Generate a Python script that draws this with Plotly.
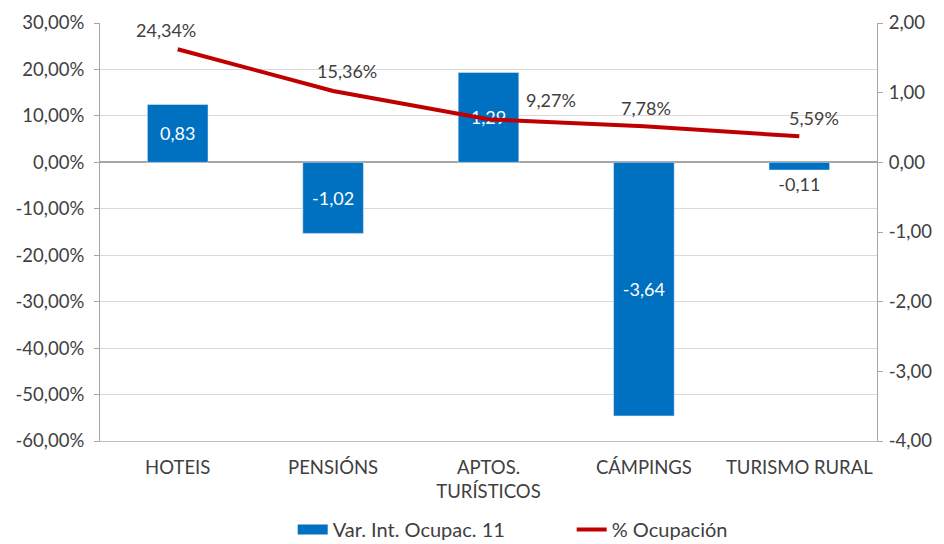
import plotly.graph_objects as go

categories = ["HOTEIS", "PENSIÓNS", "APTOS.<br>TURÍSTICOS", "CÁMPINGS", "TURISMO RURAL"]
var_int = [0.83, -1.02, 1.29, -3.64, -0.11]
ocupacion = [24.34, 15.36, 9.27, 7.78, 5.59]
left_ticks = [30, 20, 10, 0, -10, -20, -30, -40, -50, -60]
right_ticks = [2, 1, 0, -1, -2, -3, -4]

FONT = "Lato, Noto Sans, sans-serif"
TXT = "#404040"
BLUE = "#0070C0"
FS = 18.5

def fmt(v, dec=2):
    return f"{v:.{dec}f}".replace(".", ",")

fig = go.Figure()
fig.add_trace(go.Bar(
    x=categories, y=var_int, name="Var. Int. Ocupac. 11",
    marker_color=BLUE, width=0.39, showlegend=False,
    text=[fmt(v) for v in var_int], textposition="auto",
    insidetextanchor="middle",
    insidetextfont=dict(color="white", size=18, family=FONT),
    outsidetextfont=dict(color=TXT, size=18, family=FONT),
    cliponaxis=False, yaxis="y",
))
# legend proxy for bars (wide rectangle symbol)
fig.add_trace(go.Scatter(
    x=[None], y=[None], name="Var. Int. Ocupac. 11", mode="lines",
    line=dict(color=BLUE, width=12), yaxis="y",
))
fig.add_trace(go.Scatter(
    x=categories, y=ocupacion, name="% Ocupación", mode="lines",
    line=dict(color="#C00000", width=4), yaxis="y2",
))

# line labels
offsets = [(-12, 19), (14, 20), (62, 19), (2, 18), (15, 18)]
for c, v, (dx, dy) in zip(categories, ocupacion, offsets):
    fig.add_annotation(x=c, y=v, yref="y2", text=fmt(v) + "%", showarrow=False,
                       xshift=dx, yshift=dy, font=dict(size=18, color=TXT, family=FONT))

fig.update_layout(
    width=944, height=544,
    margin=dict(l=92, r=75, t=15, b=111, autoexpand=False),
    plot_bgcolor="white", paper_bgcolor="white",
    font=dict(family=FONT, size=FS, color=TXT),
    showlegend=True,
    legend=dict(orientation="h", x=0.248, xanchor="left", y=-0.212, yanchor="middle",
                font=dict(size=20, color=TXT, family=FONT), entrywidth=234,
                traceorder="normal"),
    xaxis=dict(showline=True, linecolor="#BFBFBF", linewidth=1, mirror=False,
               ticks="", tickfont=dict(size=FS, color=TXT, family=FONT),
               ticklabelstandoff=10,
               showgrid=False, automargin=False),
    yaxis=dict(side="right", range=[-4, 2], tickvals=right_ticks,
               ticktext=[fmt(v) for v in right_ticks], automargin=False,
               showgrid=False, zeroline=False, showline=True, linecolor="#A6A6A6",
               ticks="outside", ticklen=5, tickcolor="#A6A6A6",
               ticklabelstandoff=2,
               tickfont=dict(size=FS, color=TXT, family=FONT)),
    yaxis2=dict(side="left", overlaying="y", range=[-60, 30], tickvals=left_ticks,
                ticktext=[fmt(v) + "%" for v in left_ticks], automargin=False,
                showgrid=True, gridcolor="#D9D9D9", gridwidth=1,
                zeroline=True, zerolinecolor="#A6A6A6", zerolinewidth=1.5,
                showline=True, linecolor="#A6A6A6",
                ticks="outside", ticklen=5, tickcolor="#A6A6A6",
                ticklabelstandoff=6,
                tickfont=dict(size=FS, color=TXT, family=FONT)),
)
fig.write_html("out.html")
